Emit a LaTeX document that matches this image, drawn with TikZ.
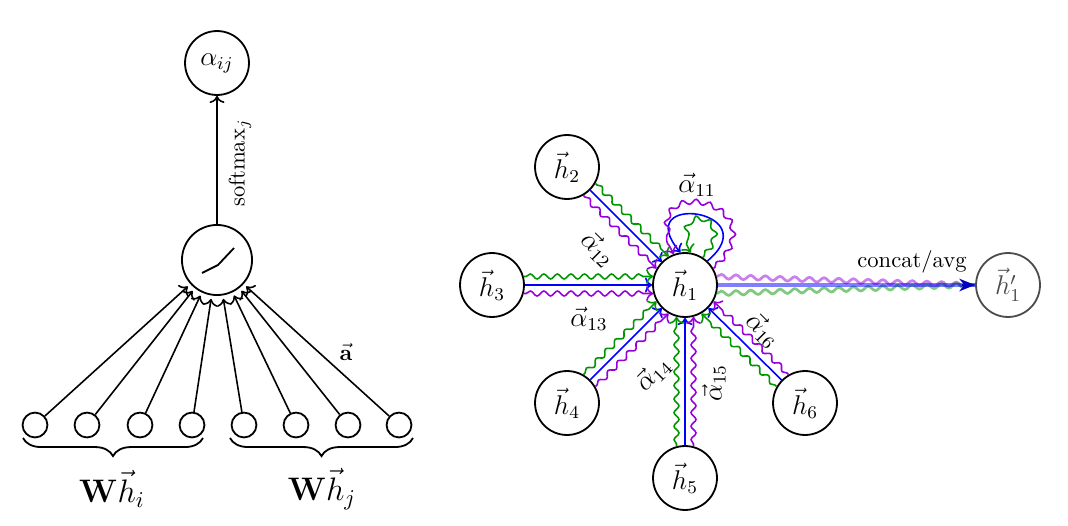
\documentclass[tikz,border=0pt]{standalone}
\usepackage{amsmath}
\usetikzlibrary{decorations.pathreplacing,decorations.pathmorphing,arrows.meta}
\definecolor{mygreen}{RGB}{0,150,0}
\definecolor{mypurple}{RGB}{150,0,220}
\begin{document}
\begin{tikzpicture}[x=0.4425pt,y=0.4425pt,
  bignode/.style={circle,draw,thick,minimum size=28.3pt,inner sep=0pt,font=\large},
  midnode/.style={circle,draw,thick,minimum size=31pt,inner sep=0pt},
  unitnode/.style={circle,draw,thick,minimum size=11pt,inner sep=0pt},
  edgelabel/.style={font=\large,inner sep=1pt},
  inarrow/.style={->,line width=0.7pt},
  bluearr/.style={->,line width=0.7pt,blue},
  wavy/.style={->,line width=0.7pt,decorate,decoration={snake,amplitude=1.1pt,segment length=6pt,post length=3pt,pre length=1pt}},
  greenarr/.style={wavy,mygreen},
  purplearr/.style={wavy,mypurple},
  catwave/.style={opacity=0.5,line width=1.2pt,decorate,decoration={snake,amplitude=1pt,segment length=6.5pt}},
  bracestyle/.style={thick,decorate,decoration={brace,mirror,amplitude=8pt}}
]
\useasboundingbox (0,0) rectangle (1068,525);

% ---------- left part ----------
\node[bignode] (alpha) at (217,462) {$\alpha_{ij}$};
\node[midnode] (mid) at (217,265) {};
\draw[thick] (mid.center) ++(-15,-13) -- ++(16,8) -- ++(16,17);
\draw[inarrow] (mid) -- (alpha);
\node[rotate=90] (sm) at (240,362) {softmax$_j$};

\foreach \i/\x in {1/35,2/87,3/140,4/192,5/244,6/296,7/348,8/399}{
  \node[unitnode] (u\i) at (\x,100) {};
  \draw[inarrow,shorten >=1.5pt] (u\i) -- (mid);
}
\node (avec) at (346,173) {$\vec{\mathbf{a}}$};

\coordinate (bl1) at (23,87);
\coordinate (bl2) at (203,87);
\coordinate (br1) at (230,87);
\coordinate (br2) at (413,87);
\draw[bracestyle] (bl1) -- (bl2);
\draw[bracestyle] (br1) -- (br2);
\node[font=\Large] (whi) at (112,36) {$\mathbf{W}\vec{h}_i$};
\node[font=\Large] (whj) at (322,36) {$\mathbf{W}\vec{h}_j$};

% ---------- right part ----------
\node[bignode] (h1) at (685,240) {$\vec{h}_1$};
\node[bignode] (h2) at (567,358) {$\vec{h}_2$};
\node[bignode] (h3) at (492,240) {$\vec{h}_3$};
\node[bignode] (h4) at (567,122) {$\vec{h}_4$};
\node[bignode] (h5) at (685,47) {$\vec{h}_5$};
\node[bignode] (h6) at (805,122) {$\vec{h}_6$};
\node[bignode,opacity=0.7] (h1p) at (1008,240) {$\vec{h}'_1$};

% h2
\draw[bluearr] (h2) -- (h1);
\draw[greenarr] (h2.330) -- (h1.120);
\draw[purplearr] (h2.300) -- (h1.150);
% h3
\draw[bluearr] (h3) -- (h1);
\draw[greenarr] (h3.15) -- (h1.165);
\draw[purplearr] (h3.345) -- (h1.195);
% h4
\draw[bluearr] (h4) -- (h1);
\draw[greenarr] (h4.60) -- (h1.210);
\draw[purplearr] (h4.30) -- (h1.240);
% h5
\draw[bluearr] (h5) -- (h1);
\draw[greenarr] (h5.105) -- (h1.255);
\draw[purplearr] (h5.75) -- (h1.285);
% h6
\draw[bluearr] (h6) -- (h1);
\draw[greenarr] (h6.150) -- (h1.300);
\draw[purplearr] (h6.120) -- (h1.330);

% self loops
\draw[bluearr] (h1.47) .. controls +(40:80) and +(130:80) .. (h1.98);
\draw[greenarr] (h1.57) .. controls +(50:55) and +(120:55) .. (h1.80);
\draw[purplearr] (h1.30) .. controls +(45:95) and +(120:95) .. (h1.110);

% labels
\node[edgelabel] (a11) at (697,340) {$\vec{\alpha}_{11}$};
\node[edgelabel,rotate=-45] (a12) at (598,276) {$\vec{\alpha}_{12}$};
\node[edgelabel] (a13) at (589,206) {$\vec{\alpha}_{13}$};
\node[edgelabel,rotate=45] (a14) at (653,151) {$\vec{\alpha}_{14}$};
\node[edgelabel,rotate=90] (a15) at (714,142) {$\vec{\alpha}_{15}$};
\node[edgelabel,rotate=-45] (a16) at (763,195) {$\vec{\alpha}_{16}$};

% concat / avg
\draw[mypurple,catwave] (h1.15) -- (h1p.west);
\draw[mygreen,catwave] (h1.-15) -- (h1p.west);
\draw[blue,opacity=0.5,line width=1.5pt] (h1) -- (h1p);
\draw[blue!75!black,line width=1.2pt,shorten <=108pt,-{Stealth[length=7pt,width=5.5pt]}] (h1) -- (h1p);
\node (cat) at (912,263) {concat/avg};
\end{tikzpicture}
\end{document}
